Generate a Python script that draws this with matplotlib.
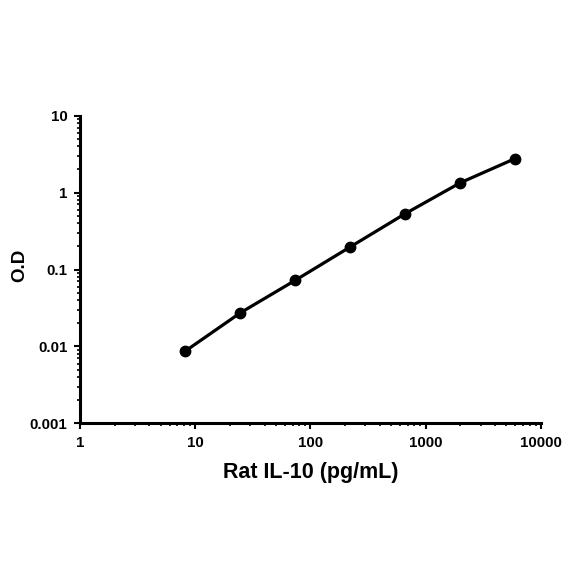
import matplotlib
matplotlib.use("Agg")
import matplotlib.pyplot as plt
import matplotlib.ticker as mticker

plt.rcParams["font.family"] = ["Liberation Sans", "DejaVu Sans"]
plt.rcParams["font.weight"] = "bold"

# standard curve
conc = [8.2, 24.7, 74.1, 222.2, 666.7, 2000, 6000]
od = [0.0087, 0.0274, 0.0726, 0.197, 0.533, 1.34, 2.77]

x_ticks = [1, 10, 100, 1000, 10000]
y_ticks = [0.001, 0.01, 0.1, 1, 10]

fig = plt.figure(figsize=(5.84, 5.84), dpi=100)
ax = fig.add_axes([0.137, 0.275, 0.789, 0.527])

ax.plot(conc, od, color="black", lw=2.3, marker="o", ms=7.5)

ax.set_xscale("log")
ax.set_yscale("log")
ax.set_xlim(1, 10000)
ax.set_ylim(0.001, 10)

fmt = mticker.FuncFormatter(lambda v, p: "{:g}".format(v))
ax.xaxis.set_major_locator(mticker.FixedLocator(x_ticks))
ax.yaxis.set_major_locator(mticker.FixedLocator(y_ticks))
ax.xaxis.set_major_formatter(fmt)
ax.yaxis.set_major_formatter(fmt)
ax.xaxis.set_minor_locator(mticker.LogLocator(base=10, subs=range(2, 10)))
ax.yaxis.set_minor_locator(mticker.LogLocator(base=10, subs=range(2, 10)))
ax.xaxis.set_minor_formatter(mticker.NullFormatter())
ax.yaxis.set_minor_formatter(mticker.NullFormatter())

for side in ["top", "right"]:
    ax.spines[side].set_visible(False)
for side in ["left", "bottom"]:
    ax.spines[side].set_linewidth(2.2)

ax.tick_params(which="major", direction="out", length=4, width=1.5, labelsize=10.8, pad=5)
ax.tick_params(which="minor", direction="out", length=2.5, width=1.2)

ax.set_xlabel("Rat IL-10 (pg/mL)", fontsize=15.5, fontweight="bold", labelpad=9)
ax.set_ylabel("O.D", fontsize=13.5, fontweight="bold")
ax.yaxis.set_label_coords(-0.113, 0.513)

plt.savefig("out.png", dpi=100)
